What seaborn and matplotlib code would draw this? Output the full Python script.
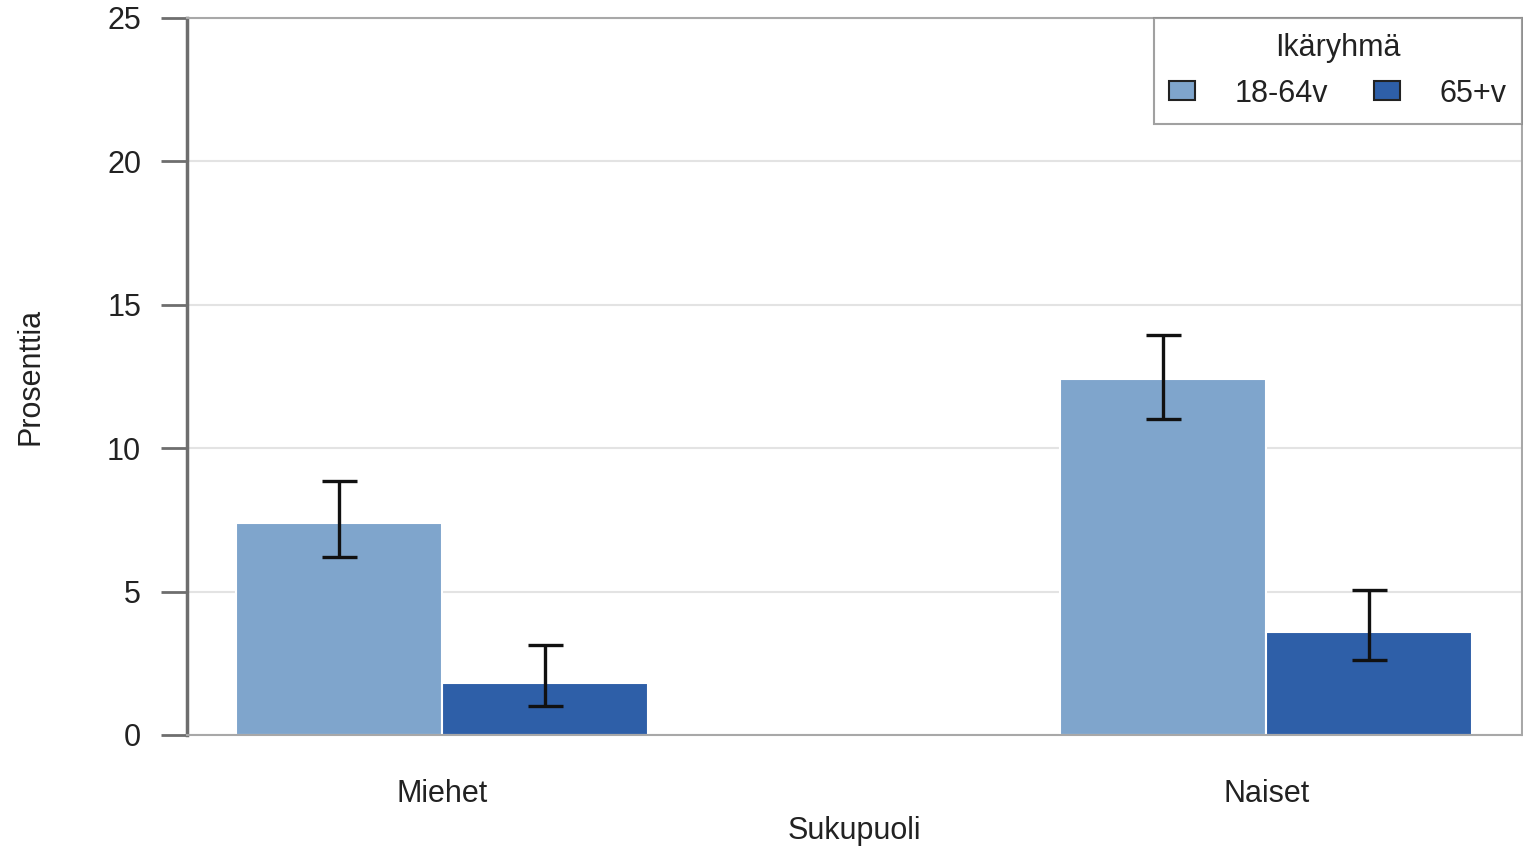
import matplotlib
matplotlib.use("Agg")
import matplotlib.pyplot as plt
import seaborn as sns
import pandas as pd

# Data
categories = ["Miehet", "Naiset"]
groups = ["18-64v", "65+v"]
values_1864 = [7.4, 12.4]
values_65 = [1.8, 3.6]
low_1864 = [6.2, 11.0]
high_1864 = [8.85, 13.95]
low_65 = [1.0, 2.6]
high_65 = [3.15, 5.05]

colors = {"18-64v": "#7fa5cc", "65+v": "#2e5fa8"}

df = pd.DataFrame({
    "Sukupuoli": categories * 2,
    "Ikäryhmä": [groups[0]] * 2 + [groups[1]] * 2,
    "Prosenttia": values_1864 + values_65,
    "low": low_1864 + low_65,
    "high": high_1864 + high_65,
})

sns.set_theme(style="white")
plt.rcParams["font.family"] = ["Liberation Sans", "DejaVu Sans"]

FS = 22
TXT = "#222222"

fig = plt.figure(figsize=(15.23, 8.48), dpi=100)
ax = fig.add_axes([0.1228, 0.1333, 0.8765, 0.8455])

sns.barplot(data=df, x="Sukupuoli", y="Prosenttia", hue="Ikäryhmä",
            order=categories, hue_order=groups, palette=colors, saturation=1,
            width=0.5, errorbar=None, edgecolor="white", linewidth=1.5,
            ax=ax, zorder=2)

# Confidence intervals at the centre of each bar
for container, grp in zip(ax.containers, groups):
    sub = df[df["Ikäryhmä"] == grp].set_index("Sukupuoli").loc[categories]
    xs = [p.get_x() + p.get_width() / 2 for p in container.patches]
    ax.vlines(xs, sub["low"], sub["high"], color="#111111", lw=2.4, zorder=3)
    for x, lo, hi in zip(xs, sub["low"], sub["high"]):
        ax.hlines([lo, hi], x - 0.021, x + 0.021, color="#111111", lw=2.4, zorder=3)

ax.set_ylim(0, 25)
ax.set_xlim(-0.31, 1.31)
ax.set_yticks([0, 5, 10, 15, 20, 25])
ax.yaxis.grid(True, color="#e3e3e3", lw=1.5, zorder=0)
ax.set_axisbelow(True)

for side in ["top", "right", "bottom"]:
    ax.spines[side].set_color("#a8a8a8")
    ax.spines[side].set_linewidth(1.5)
ax.spines["left"].set_color("#6e6e6e")
ax.spines["left"].set_linewidth(2.5)

ax.tick_params(axis="y", which="major", length=19, width=2, color="#6e6e6e",
               pad=14, labelsize=FS, labelcolor=TXT, left=True)
ax.tick_params(axis="x", length=0, pad=32, labelsize=FS, labelcolor=TXT)

ax.set_ylabel("Prosenttia", fontsize=FS, color=TXT)
ax.yaxis.set_label_coords(-0.106, 0.5)
ax.set_xlabel("Sukupuoli", fontsize=FS, color=TXT, labelpad=5)

leg = ax.legend(title="Ikäryhmä", ncol=2, loc="upper right",
                bbox_to_anchor=(1.0, 1.0), borderaxespad=0, frameon=True,
                fancybox=False, fontsize=FS, title_fontsize=FS,
                handlelength=0.85, handleheight=0.6, handletextpad=1.3,
                columnspacing=1.5, borderpad=0.5, labelspacing=0.5)
leg.get_frame().set_edgecolor("#8a8a8a")
leg.get_frame().set_linewidth(1.5)
for h in leg.legend_handles:
    h.set_edgecolor(TXT)
    h.set_linewidth(1.5)
for t in leg.get_texts():
    t.set_color(TXT)
leg.get_title().set_color(TXT)

fig.savefig("out.png", dpi=100)
